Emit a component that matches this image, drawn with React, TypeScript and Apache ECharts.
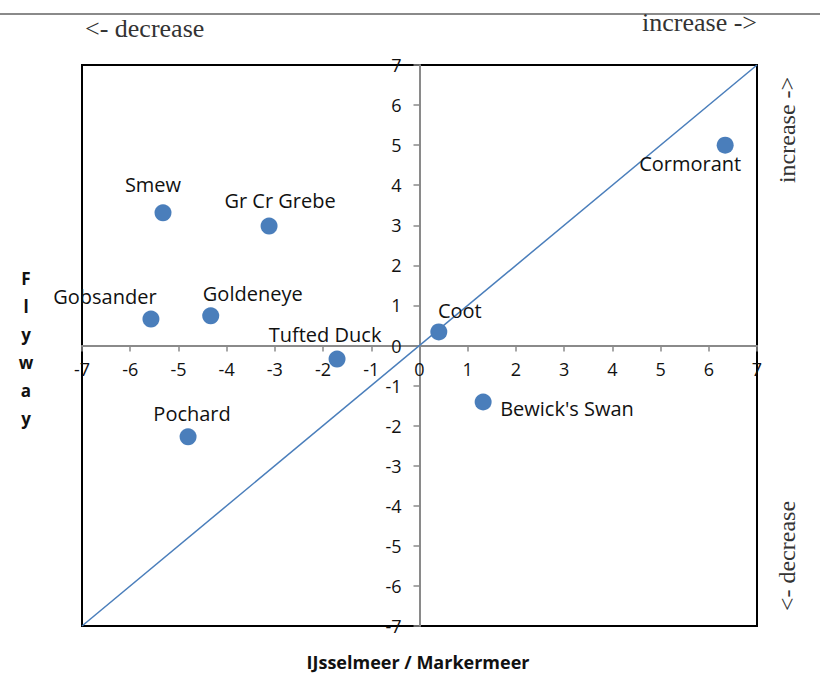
import React, { useEffect, useRef } from "react";
import * as echarts from "echarts";

const species = ["Smew", "Gr Cr Grebe", "Gobsander", "Goldeneye", "Tufted Duck", "Pochard", "Coot", "Bewick's Swan", "Cormorant"];
const ijsselmeerMarkermeer = [-5.32, -3.12, -5.57, -4.33, -1.71, -4.8, 0.4, 1.32, 6.34];
const flyway = [3.31, 2.98, 0.66, 0.74, -0.34, -2.28, 0.34, -1.41, 5.0];
const diagonalX = [-7, 7];
const diagonalY = [-7, 7];
const axisMin = -7;
const axisMax = 7;
const axisStep = 1;

// label placement (pixel offsets from the marker centre)
const labelPlacement: Record<string, { offset: [number, number]; align: string }> = {
  "Smew": { offset: [-10, -28], align: "center" },
  "Gr Cr Grebe": { offset: [11, -26], align: "center" },
  "Gobsander": { offset: [-46, -23], align: "center" },
  "Goldeneye": { offset: [42, -22], align: "center" },
  "Tufted Duck": { offset: [-12, -25], align: "center" },
  "Pochard": { offset: [4, -23], align: "center" },
  "Coot": { offset: [21, -21], align: "center" },
  "Bewick's Swan": { offset: [17, 6], align: "left" },
  "Cormorant": { offset: [-35, 18], align: "center" },
};

const BLUE = "#4a7ebb";
const SANS = "'Open Sans', 'Noto Sans', sans-serif";
const SERIF = "'Liberation Serif', 'DejaVu Serif', serif";
const W = 820;
const H = 679;
const GRID = { left: 82, right: 63, top: 65, bottom: 53 };

export default function App() {
  const ref = useRef<HTMLDivElement>(null);
  useEffect(() => {
    document.body.style.margin = "0";
    if (!ref.current) return;
    const chart = echarts.init(ref.current, null, { renderer: "svg" });
    const points = species.map((name, i) => {
      const p = labelPlacement[name];
      return {
        name,
        value: [ijsselmeerMarkermeer[i], flyway[i]],
        label: {
          show: true,
          position: "inside",
          formatter: name,
          offset: p.offset,
          align: p.align,
          verticalAlign: "middle",
          color: "#111",
          fontSize: 20,
          fontFamily: SANS,
        },
      };
    });
    const plotW = W - GRID.left - GRID.right;
    const plotH = H - GRID.top - GRID.bottom;
    // place each axis where the other axis's value is zero
    const zeroFrac = (0 - axisMin) / (axisMax - axisMin);
    const yOffset = -(plotH * zeroFrac);
    const xOffset = -(plotW * zeroFrac);
    const axisCommon = {
      type: "value",
      min: axisMin,
      max: axisMax,
      interval: axisStep,
      axisLine: { onZero: false, lineStyle: { color: "#8a8a8a", width: 2 } },
      axisTick: { show: true, length: 6, lineStyle: { color: "#8a8a8a", width: 1.5 } },
      splitLine: { show: false },
      axisLabel: { color: "#111", fontSize: 18, fontFamily: SANS },
    };
    chart.setOption({
      animation: false,
      grid: {
        ...GRID,
        show: true,
        borderColor: "#000",
        borderWidth: 2,
        backgroundColor: "transparent",
        z: 0,
      },
      xAxis: { ...axisCommon, position: "bottom", offset: yOffset, axisLabel: { ...axisCommon.axisLabel, margin: 14 } },
      yAxis: { ...axisCommon, position: "left", offset: xOffset, axisLabel: { ...axisCommon.axisLabel, margin: 18 } },
      series: [
        {
          type: "line",
          data: diagonalX.map((x, i) => [x, diagonalY[i]]),
          showSymbol: false,
          symbol: "none",
          lineStyle: { color: BLUE, width: 1.5 },
          silent: true,
          z: 1,
        },
        {
          type: "scatter",
          data: points,
          symbolSize: 17,
          itemStyle: { color: BLUE, opacity: 1 },
          z: 3,
        },
      ],
      graphic: [
        { type: "line", shape: { x1: 0, y1: 14, x2: 820, y2: 14 }, style: { stroke: "#8a8a8a", lineWidth: 2 } },
        { type: "text", left: 85, top: 15, style: { text: "<- decrease", fontSize: 26, fontFamily: SERIF, fill: "#333" } },
        { type: "text", right: 63, top: 9, style: { text: "increase ->", fontSize: 26, fontFamily: SERIF, fill: "#333" } },
        {
          type: "text",
          x: 787,
          y: 130,
          rotation: Math.PI / 2,
          style: { text: "increase ->", fontSize: 24, fontFamily: SERIF, fill: "#333", align: "center", verticalAlign: "middle" },
        },
        {
          type: "text",
          x: 787,
          y: 556,
          rotation: Math.PI / 2,
          style: { text: "<- decrease", fontSize: 24, fontFamily: SERIF, fill: "#333", align: "center", verticalAlign: "middle" },
        },
        {
          type: "text",
          x: 26,
          y: 348,
          style: {
            text: "F\nl\ny\nw\na\ny",
            fontSize: 17,
            fontWeight: "bold",
            lineHeight: 28,
            fontFamily: SANS,
            fill: "#111",
            align: "center",
            verticalAlign: "middle",
          },
        },
        {
          type: "text",
          x: 418,
          y: 662,
          style: {
            text: "IJsselmeer / Markermeer",
            fontSize: 18,
            fontWeight: "bold",
            fontFamily: SANS,
            fill: "#111",
            align: "center",
            verticalAlign: "middle",
          },
        },
      ],
    });
    return () => chart.dispose();
  }, []);
  return <div ref={ref} style={{ width: W, height: H }} />;
}
